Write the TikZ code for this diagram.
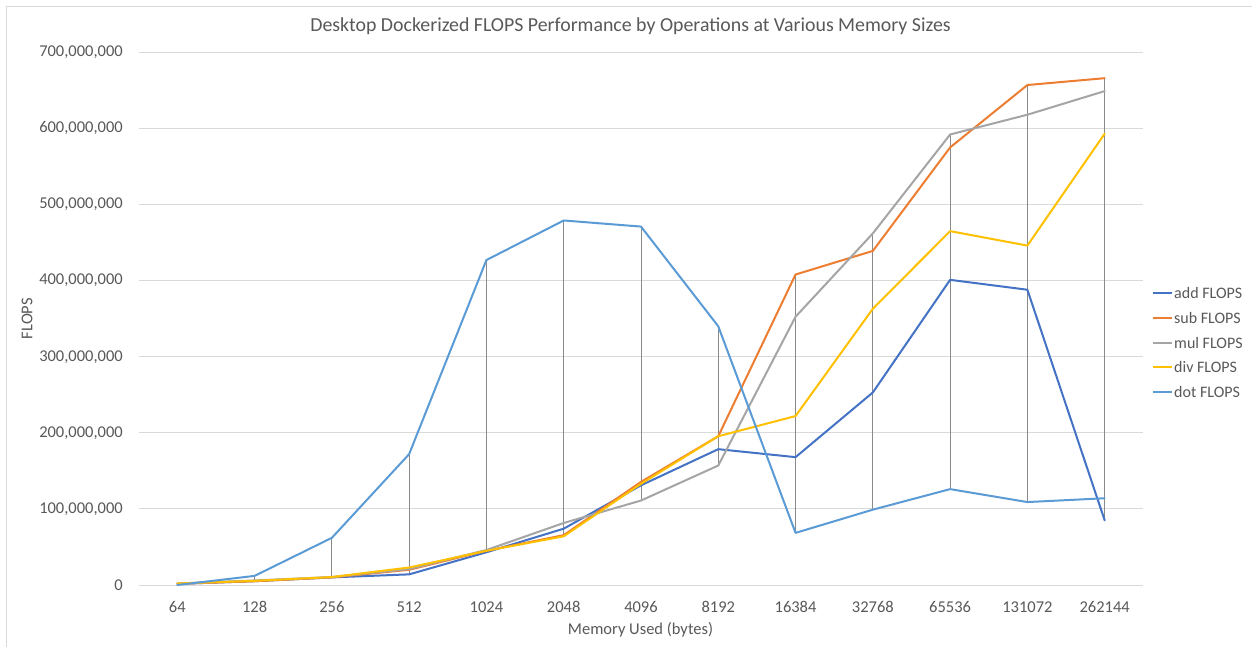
\documentclass[tikz,border=0pt]{standalone}
\usepackage{fontspec}
\setmainfont{Carlito}
\definecolor{txt}{HTML}{595959}
\definecolor{gridc}{HTML}{D9D9D9}
\definecolor{hiloc}{HTML}{8A8A8A}
\definecolor{addc}{HTML}{4472C4}
\definecolor{subc}{HTML}{ED7D31}
\definecolor{mulc}{HTML}{A5A5A5}
\definecolor{divc}{HTML}{FFC000}
\definecolor{dotc}{HTML}{5B9BD5}
\tikzset{
  gridline/.style={draw=gridc, line width=1pt},
  hiloline/.style={draw=hiloc, line width=0.9pt},
  series/.style={line width=2pt, line join=round, line cap=round},
  ticklbl/.style={text=txt, font=\fontsize{16.5}{19}\selectfont, inner sep=0pt},
  axtitle/.style={text=txt, font=\fontsize{16.5}{19}\selectfont, inner sep=0pt},
  legtext/.style={text=txt, font=\fontsize{16}{19}\selectfont, inner sep=0pt, anchor=west},
  charttitle/.style={text=txt, font=\fontsize{19.85}{23}\selectfont, inner sep=0pt},
}
\begin{document}
\begin{tikzpicture}[x=1pt, y=-1pt]
\useasboundingbox (0,0) rectangle (1252,646);
\fill[white] (0,0) rectangle (1252,646);
% chart area frame
\draw[gridline] (6.5,650) -- (6.5,6) -- (1256,6);

% title and axis titles
\node[charttitle] (title) at (630.5,26) {Desktop Dockerized FLOPS Performance by Operations at Various Memory Sizes};
\node[axtitle, rotate=90] (ytitle) at (27,318.5) {FLOPS};
\node[axtitle] (xtitle) at (640.5,630) {Memory Used (bytes)};

% plot area: one unit in x per category, one unit in y per million FLOPS
\begin{scope}[shift={(177.3,585)}, x=77.28pt, y=0.761pt]
  % horizontal gridlines and value labels
  \foreach \v/\t in {0/0, 100/{100,000,000}, 200/{200,000,000}, 300/{300,000,000},
                     400/{400,000,000}, 500/{500,000,000}, 600/{600,000,000}, 700/{700,000,000}} {
    \draw[gridline] (-0.5,\v) -- (12.5,\v);
    \node[ticklbl, anchor=east] (ylab\v) at ([xshift=-15.7pt]-0.5,\v) {\t};
  }
  % category labels
  \foreach \c [count=\i from 0] in {64,128,256,512,1024,2048,4096,8192,16384,32768,65536,131072,262144} {
    \node[ticklbl] (xlab\i) at ([yshift=-22pt]\i,0) {\c};
  }
  % high-low lines between the largest and smallest value of each category
  \foreach \i/\a/\s/\m/\d/\t in {
      0/1.5/1.5/2/2/0, 1/5/5/6/5.5/12, 2/10/10/10.5/10.5/62, 3/14/20/21/23/172,
      4/43/45/46/45/427, 5/74/65.5/81.5/64/479, 6/131/135.5/111/133/471,
      7/178.5/195.5/157/195.5/340, 8/168/408/352.5/222/68.5, 9/253/439/462/363/99,
      10/401/575/592/465/126, 11/388/657/618/446/109, 12/85/666/649/593/114} {
    \pgfmathsetmacro\hi{max(\a,\s,\m,\d,\t)}
    \pgfmathsetmacro\lo{min(\a,\s,\m,\d,\t)}
    \coordinate (hi\i) at (\i,\hi);
    \coordinate (lo\i) at (\i,\lo);
    \draw[hiloline] (hi\i) -- (lo\i);
  }
  % data series
  \draw[series, addc] plot coordinates {(0,1.5) (1,5) (2,10) (3,14) (4,43) (5,74) (6,131)
      (7,178.5) (8,168) (9,253) (10,401) (11,388) (12,85)};
  \draw[series, subc] plot coordinates {(0,1.5) (1,5) (2,10) (3,20) (4,45) (5,65.5) (6,135.5)
      (7,195.5) (8,408) (9,439) (10,575) (11,657) (12,666)};
  \draw[series, mulc] plot coordinates {(0,2) (1,6) (2,10.5) (3,21) (4,46) (5,81.5) (6,111)
      (7,157) (8,352.5) (9,462) (10,592) (11,618) (12,649)};
  \draw[series, divc] plot coordinates {(0,2) (1,5.5) (2,10.5) (3,23) (4,45) (5,64) (6,133)
      (7,195.5) (8,222) (9,363) (10,465) (11,446) (12,593)};
  \draw[series, dotc] plot coordinates {(0,0) (1,12) (2,62) (3,172) (4,427) (5,479) (6,471)
      (7,340) (8,68.5) (9,99) (10,126) (11,109) (12,114)};
\end{scope}

% legend
\foreach \c/\t [count=\k from 0] in {addc/add FLOPS, subc/sub FLOPS, mulc/mul FLOPS, divc/div FLOPS, dotc/dot FLOPS} {
  \coordinate (legA\k) at (1153,293+24.8*\k);
  \coordinate (legB\k) at (1172,293+24.8*\k);
  \draw[series, \c, line cap=butt] (legA\k) -- (legB\k);
  \node[legtext] (leg\k) at ([xshift=2pt]legB\k) {\t};
}
\end{tikzpicture}
\end{document}
